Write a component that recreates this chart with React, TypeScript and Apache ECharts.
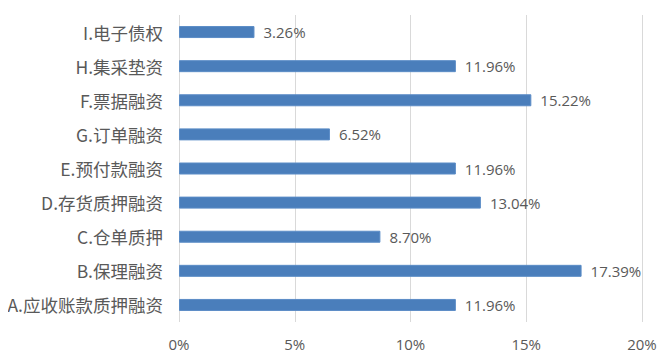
import React, { useEffect, useRef } from "react";
import * as echarts from "echarts";

const categories = [
  "A.应收账款质押融资",
  "B.保理融资",
  "C.仓单质押",
  "D.存货质押融资",
  "E.预付款融资",
  "G.订单融资",
  "F.票据融资",
  "H.集采垫资",
  "I.电子债权",
];
const values = [11.96, 17.39, 8.7, 13.04, 11.96, 6.52, 15.22, 11.96, 3.26];
const xTicks = [0, 5, 10, 15, 20];

export default function App() {
  const ref = useRef<HTMLDivElement>(null);
  useEffect(() => {
    const chart = echarts.init(ref.current!, null, { renderer: "svg" });
    chart.setOption({
      animation: false,
      backgroundColor: "#ffffff",
      grid: { left: 179, right: 29, top: 15, bottom: 41, containLabel: false },
      xAxis: {
        type: "value",
        min: xTicks[0],
        max: xTicks[xTicks.length - 1],
        interval: 5,
        axisLine: { show: false },
        axisTick: { show: false },
        splitLine: { show: true, lineStyle: { color: "#d9d9d9", width: 1 } },
        axisLabel: {
          formatter: (v: number) => v + "%",
          color: "#595959",
          fontSize: 15,
          fontFamily: "Open Sans",
          margin: 14,
        },
      },
      yAxis: {
        type: "category",
        data: categories,
        axisLine: { show: false },
        axisTick: { show: false },
        axisLabel: {
          color: "#595959",
          fontSize: 17.5,
          fontFamily: "Noto Sans CJK SC",
          margin: 16,
        },
      },
      series: [
        {
          type: "bar",
          data: values,
          barWidth: 12,
          itemStyle: { color: "#4a7ebb", borderColor: "#5b8cc6", borderWidth: 1 },
          label: {
            show: true,
            position: "right",
            distance: 9,
            formatter: (p: any) => p.value.toFixed(2) + "%",
            color: "#595959",
            fontSize: 15,
            fontFamily: "Open Sans",
          },
        },
      ],
    });
    return () => chart.dispose();
  }, []);
  return <div ref={ref} style={{ width: 671, height: 363, margin: -8 }} />;
}
